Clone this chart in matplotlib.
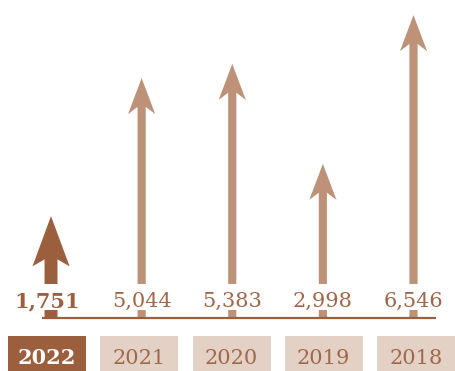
import matplotlib
matplotlib.use("Agg")
import matplotlib.pyplot as plt
import matplotlib.transforms as mtransforms
from matplotlib.patches import FancyArrow, Rectangle

# yearly totals, newest first
years = ["2022", "2021", "2020", "2019", "2018"]
counts = [1751, 5044, 5383, 2998, 6546]

DARK = "#9b5f3e"
LIGHT = "#be9279"
BOX_LIGHT = "#e3d1c6"
TEXT = "#a0674a"

fig = plt.figure(figsize=(4.55, 3.71), dpi=100)
ax = fig.add_axes([0, 0, 1, 1])
ax.axis("off")
ax.set_xlim(-0.563, 4.458)
ax.set_ylim(-1945, 6907)

# arrows all start from the baseline
BASE_FRAC = 0.143
y0, y1 = ax.get_ylim()
base = y0 + BASE_FRAC * (y1 - y0)

mixed = mtransforms.blended_transform_factory(ax.transData, ax.transAxes)

for i, (year, n) in enumerate(zip(years, counts)):
    first = i == 0
    if first:
        arrow = FancyArrow(i, base, 0, n - base, width=0.143, head_width=0.41,
                           head_length=1200, overhang=0.14,
                           length_includes_head=True, color=DARK, lw=0, zorder=2)
    else:
        arrow = FancyArrow(i, base, 0, n - base, width=0.09, head_width=0.30,
                           head_length=860, overhang=0.2,
                           length_includes_head=True, color=LIGHT, lw=0, zorder=2)
    ax.add_patch(arrow)

    # white gap in the shaft behind the value label
    ax.add_patch(Rectangle((i - 0.2, 0.165), 0.4, 0.07, transform=mixed,
                           fc="white", ec="none", zorder=3))
    ax.text(i - (0.04 if first else 0), 0.1725, f"{n:,}", transform=mixed,
            ha="center", va="baseline", family="DejaVu Serif", fontsize=15,
            fontweight="bold" if first else "normal",
            color=DARK if first else TEXT, zorder=4)

    # year tabs along the bottom
    bx = (8 + 92.25 * i) / 455
    ax.add_patch(Rectangle((bx, 0), 78 / 455, 35 / 371, transform=ax.transAxes,
                           fc=DARK if first else BOX_LIGHT, ec="none", zorder=1))
    ax.text(bx + 39 / 455, 0.02, year, transform=ax.transAxes, ha="center",
            va="baseline", family="DejaVu Serif", fontsize=15,
            fontweight="bold" if first else "normal",
            color="white" if first else TEXT, zorder=2)

# baseline
ax.plot([0.092, 0.958], [BASE_FRAC, BASE_FRAC], transform=ax.transAxes,
        color=DARK, lw=1.6, solid_capstyle="butt", zorder=5)

fig.savefig("out.png", dpi=100, facecolor="white")
